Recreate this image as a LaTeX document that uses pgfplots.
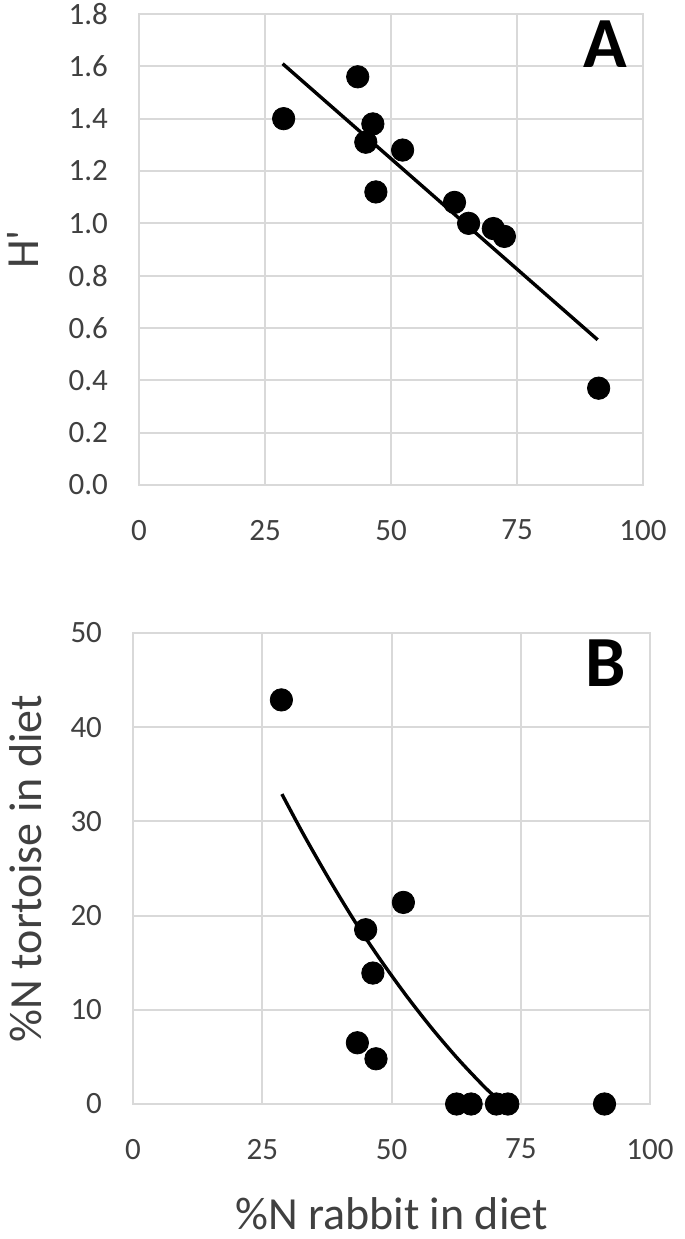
\documentclass[border=0pt]{standalone}
\usepackage{fontspec}
\setmainfont{Carlito}
\usepackage{pgfplots}
\pgfplotsset{compat=1.18}
\usepackage{pgfplotstable}

\definecolor{ticktxt}{HTML}{404040}
\definecolor{gridc}{HTML}{D9D9D9}

% %N rabbit vs diversity H'
\pgfplotstableread{
x     y
28.7  1.40
43.4  1.56
46.4  1.38
45.0  1.31
47.0  1.12
52.3  1.28
62.6  1.08
65.4  1.00
70.3  0.98
72.5  0.95
91.2  0.37
}\tabH

% %N rabbit vs %N tortoise
\pgfplotstableread{
x     y
28.7  42.9
43.4  6.5
46.4  13.9
45.0  18.5
47.0  4.8
52.3  21.4
62.6  0
65.4  0
70.3  0
72.5  0
91.2  0
}\tabT

\pgfplotsset{
  panel/.style={
    scale only axis,
    xmin=0, xmax=100,
    xtick={0,25,50,75,100},
    major tick length=0pt,
    grid=major,
    grid style={gridc, line width=1pt},
    axis line style={gridc, line width=1pt},
    tick label style={font=\fontsize{15.5}{18}\selectfont, text=ticktxt},
    /pgf/number format/assume math mode=true,
    xticklabel style={yshift=-14pt},
    yticklabel style={xshift=-12pt},
    label style={font=\fontsize{23}{27}\selectfont, text=ticktxt},
  },
  dots/.style={only marks, mark=*, mark size=5.6pt, mark options={fill=black, draw=black}},
  trend/.style={black, line width=1.7pt, no marks},
}

\begin{document}
\begin{tikzpicture}
\useasboundingbox (0,0) rectangle (342.5pt,619.5pt);

\begin{axis}[panel,
    at={(69.5pt,377pt)}, anchor=south west,
    width=252pt, height=235.5pt,
    ymin=0, ymax=1.8,
    ytick={0,0.2,...,1.8},
    yticklabel style={/pgf/number format/.cd, fixed, fixed zerofill, precision=1},
    ylabel={H\textquotesingle},
    ylabel style={at={(axis description cs:0,0.5)}, anchor=center, yshift=58pt},
  ]
  \addplot[dots] table[x=x, y=y] {\tabH};
  \addplot[trend] coordinates {(28.5,1.61) (91.0,0.555)};
  \node[font=\fontsize{36}{40}\selectfont\bfseries] at (axis cs:92.5,1.685) {A};
\end{axis}

\begin{axis}[panel,
    at={(66.5pt,67.5pt)}, anchor=south west,
    width=258.5pt, height=235.5pt,
    ymin=0, ymax=50,
    ytick={0,10,...,50},
    xlabel={\%N rabbit in diet},
    ylabel={\%N tortoise in diet},
    xlabel style={yshift=-12pt},
    ylabel style={at={(axis description cs:0,0.5)}, anchor=center, yshift=53.5pt},
  ]
  \addplot[dots] table[x=x, y=y] {\tabT};
  \addplot[trend, smooth] coordinates {
    (28.8,32.9) (33,28.6) (38,23.8) (43,19.3) (48,15.2) (53,11.4)
    (58,7.9) (63,4.7) (68,1.8) (70.2,0.7)};
  \node[font=\fontsize{36}{40}\selectfont\bfseries] at (axis cs:91.5,46.8) {B};
\end{axis}
\end{tikzpicture}
\end{document}
